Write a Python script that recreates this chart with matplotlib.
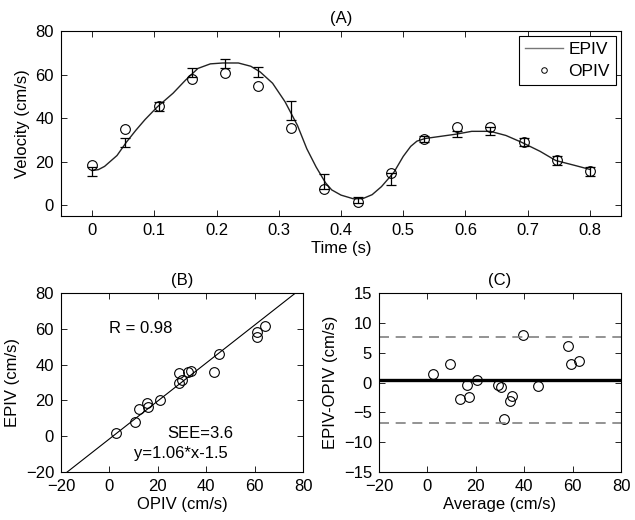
import numpy as np
import matplotlib
matplotlib.use("Agg")
import matplotlib.pyplot as plt
from matplotlib.lines import Line2D

plt.rcParams['font.family'] = ['Liberation Sans', 'DejaVu Sans']
plt.rcParams['font.size'] = 12

# panel A: sample times, optical PIV and echo PIV (mean +/- sd)
t_pts = [0, 0.0533, 0.1067, 0.16, 0.2133, 0.2667, 0.32, 0.3733,
         0.4267, 0.48, 0.5333, 0.5867, 0.64, 0.6933, 0.7467, 0.8]
opiv = [18.3, 34.8, 45.7, 58.0, 60.8, 54.8, 35.5, 7.5,
        1.4, 14.9, 30.6, 35.7, 36.0, 29.2, 20.6, 15.7]
epiv_mean = [15.5, 28.8, 45.2, 61.0, 65.0, 61.0, 43.4, 10.7,
             2.3, 12.0, 30.2, 32.6, 33.9, 29.0, 20.5, 15.5]
epiv_err = [2.1, 2.0, 2.0, 2.0, 2.0, 2.3, 4.3, 3.5,
            1.5, 2.8, 1.4, 1.5, 1.8, 2.0, 2.0, 2.0]

# EPIV curve
t_curve = [0, 0.01, 0.02, 0.04, 0.055, 0.07, 0.085, 0.105, 0.13, 0.15,
           0.17, 0.19, 0.21, 0.235, 0.255, 0.27, 0.29, 0.31, 0.33, 0.345,
           0.36, 0.375, 0.385, 0.40, 0.42, 0.435, 0.45, 0.465, 0.485, 0.50,
           0.512, 0.522, 0.535, 0.56, 0.585, 0.61, 0.64, 0.665, 0.69, 0.72,
           0.745, 0.775, 0.80]
v_curve = [15.9, 16.3, 17.8, 22.8, 28.9, 34.3, 39.3, 45.2, 51.4, 57.4,
           62.8, 64.9, 65.3, 65.3, 63.8, 61.2, 56.0, 47.5, 36.6, 25.9,
           17.5, 10.3, 7.0, 4.6, 2.9, 3.0, 4.8, 8.5, 15.1, 22.4,
           27.0, 29.4, 30.6, 31.6, 32.6, 33.9, 33.9, 32.0, 28.9, 24.7,
           20.5, 18.3, 16.4]

# panel B: OPIV vs EPIV
b_opiv = [2.8, 10.7, 12.1, 15.6, 15.9, 20.8, 28.8, 29.9, 28.8, 32.6,
          33.8, 43.4, 45.1, 60.8, 61.0, 64.4]
b_epiv = [1.7, 7.8, 15.0, 18.6, 16.3, 20.4, 29.7, 31.4, 35.1, 35.8,
          36.4, 35.8, 46.2, 55.3, 58.3, 61.3]
slope, intercept = 1.06, -1.5

# panel C: Bland-Altman
c_avg = [2.2, 9.2, 13.5, 16.3, 17.2, 20.5, 29.1, 30.4, 31.8, 34.2,
         35.1, 39.4, 45.5, 57.9, 59.5, 62.5]
c_diff = [1.36, 3.14, -2.75, -0.42, -2.47, 0.42, -0.47, -0.81, -6.1, -3.09,
          -2.3, 7.93, -0.53, 6.15, 3.09, 3.59]
mean_diff = 0.45
upper_loa = 7.65
lower_loa = -6.76


def matlab_style(ax):
    ax.tick_params(direction='in', top=True, right=True, length=4, width=0.6, pad=5)
    for s in ax.spines.values():
        s.set_linewidth(0.8)


fig = plt.figure(figsize=(6.35, 5.2), dpi=100)

axA = fig.add_axes([0.0961, 0.5846, 0.8819, 0.3558])
axA.plot(t_curve, v_curve, color='#222222', lw=1.0)
axA.errorbar(t_pts, epiv_mean, yerr=epiv_err, fmt='none', ecolor='black',
             elinewidth=0.9, capsize=3.5, capthick=0.9)
axA.plot(t_pts, opiv, 'o', mfc='none', mec='black', ms=7, mew=0.8)
axA.set_xlim(-0.05, 0.85)
axA.set_ylim(-5, 80)
axA.set_xticks([0, 0.1, 0.2, 0.3, 0.4, 0.5, 0.6, 0.7, 0.8])
axA.set_xticklabels(['0', '0.1', '0.2', '0.3', '0.4', '0.5', '0.6', '0.7', '0.8'])
axA.set_yticks([0, 20, 40, 60, 80])
axA.set_xlabel('Time (s)', labelpad=2)
axA.set_ylabel('Velocity (cm/s)')
axA.set_title('(A)', fontsize=12, pad=6)
handles = [Line2D([], [], color='#777777', lw=1.0),
           Line2D([], [], ls='none', marker='o', mfc='none', mec='black', ms=4, mew=0.7)]
leg = axA.legend(handles, ['EPIV', 'OPIV'], loc='upper right', fancybox=False,
                 edgecolor='black', framealpha=1, handlelength=2.2,
                 handletextpad=0.3, labelspacing=0.35, borderpad=0.35,
                 borderaxespad=0.3, fontsize=12.5)
leg.get_frame().set_linewidth(0.8)
matlab_style(axA)

axB = fig.add_axes([0.0961, 0.0923, 0.3811, 0.3442])
axB.plot(b_opiv, b_epiv, 'o', mfc='none', mec='black', ms=7, mew=0.8)
xl = np.array([-20, 80])
axB.plot(xl, slope * xl + intercept, color='black', lw=0.8)
axB.set_xlim(-20, 80)
axB.set_ylim(-20, 80)
axB.set_xticks([-20, 0, 20, 40, 60, 80])
axB.set_yticks([-20, 0, 20, 40, 60, 80])
axB.text(0, 60, 'R = 0.98', va='center', ha='left')
axB.text(24, 1.7, 'SEE=3.6', va='center', ha='left')
axB.text(10, -9.5, 'y=1.06*x-1.5', va='center', ha='left')
axB.set_xlabel('OPIV (cm/s)', labelpad=2)
axB.set_ylabel('EPIV (cm/s)')
axB.set_title('(B)', fontsize=12, pad=6)
matlab_style(axB)

axC = fig.add_axes([0.5969, 0.0923, 0.3811, 0.3442])
axC.plot(c_avg, c_diff, 'o', mfc='none', mec='black', ms=7, mew=0.8)
axC.axhline(mean_diff, color='black', lw=2.4)
axC.axhline(upper_loa, color='#808080', lw=1.2, ls=(0, (6, 4)))
axC.axhline(lower_loa, color='#808080', lw=1.2, ls=(0, (6, 4)))
axC.set_xlim(-20, 80)
axC.set_ylim(-15, 15)
axC.set_xticks([-20, 0, 20, 40, 60, 80])
axC.set_yticks([-15, -10, -5, 0, 5, 10, 15])
axC.set_xlabel('Average (cm/s)', labelpad=2)
axC.set_ylabel('EPIV-OPIV (cm/s)')
axC.set_title('(C)', fontsize=12, pad=6)
matlab_style(axC)

fig.savefig('out.png', dpi=100)
